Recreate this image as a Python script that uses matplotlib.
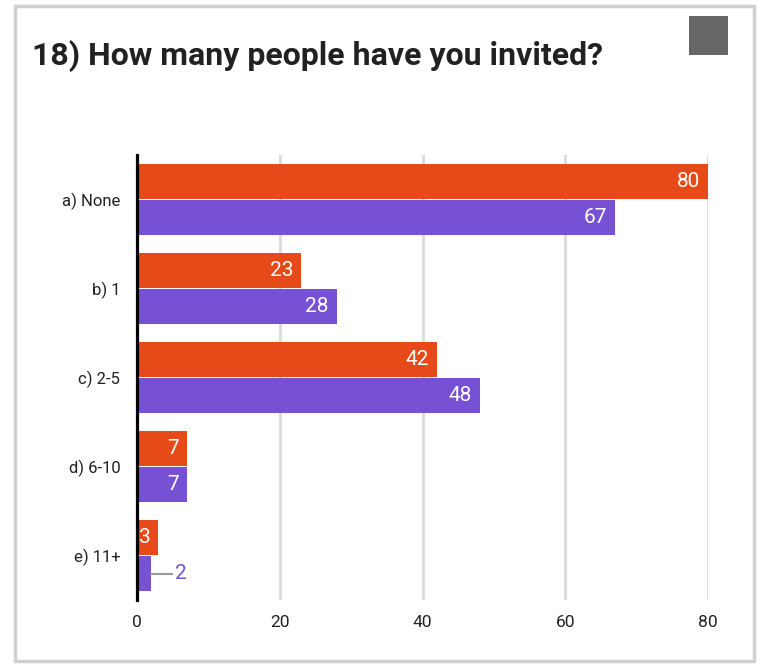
import numpy as np
import matplotlib
matplotlib.use("Agg")
import matplotlib.pyplot as plt
from matplotlib.patches import Rectangle

plt.rcParams['font.family'] = ['Roboto', 'DejaVu Sans']

title = "18) How many people have you invited?"
categories = ["a) None", "b) 1", "c) 2-5", "d) 6-10", "e) 11+"]
series_a = [80, 23, 42, 7, 3]
series_b = [67, 28, 48, 7, 2]
xticks = [0, 20, 40, 60, 80]

orange = "#E64A19"
purple = "#7651D3"

fig = plt.figure(figsize=(7.62, 6.65), dpi=100)
ax = fig.add_axes([137 / 762, 1 - 600 / 665, (708 - 137) / 762, 445 / 665])

y = np.arange(len(categories))
h = 0.39
off = 0.205
ax.barh(y - off, series_a, height=h, color=orange, zorder=3)
ax.barh(y + off, series_b, height=h, color=purple, zorder=3)

px = 80 / 571  # data units per pixel


def label(vals, ys, color):
    for v, yy in zip(vals, ys):
        if v > 2:
            ax.text(v - 8 * px, yy, str(v), color="white", fontsize=15,
                    ha="right", va="center", zorder=4)
        else:
            ax.plot([v - 1 * px, v + 22 * px], [yy, yy], color="#999999",
                    lw=1.5, zorder=4, solid_capstyle="butt")
            ax.text(v + 24 * px, yy, str(v), color=color, fontsize=15,
                    ha="left", va="center", zorder=4)


label(series_a, y - off, orange)
label(series_b, y + off, purple)

ax.set_xlim(0, 80)
ax.set_ylim(4.5, -0.5)
ax.set_xticks(xticks)
ax.set_xticklabels([str(t) for t in xticks], fontsize=12.5, color="#222222")
ax.set_yticks(y)
ax.set_yticklabels(categories, fontsize=12, color="#222222")
ax.tick_params(length=0)
ax.tick_params(axis="x", pad=11)
ax.tick_params(axis="y", pad=12)
ax.grid(axis="x", color="#dddddd", lw=2.2, zorder=0)
for s in ["top", "right", "bottom"]:
    ax.spines[s].set_visible(False)
ax.spines["left"].set_linewidth(2.3)
ax.spines["left"].set_color("black")
ax.spines["left"].set_zorder(5)

fig.text(32 / 762, 1 - 65 / 665, title, fontsize=23, fontweight="bold",
         color="#212121", ha="left", va="baseline")

# card frame and the grey square
fig.patches.append(Rectangle((15 / 762, 1 - 661 / 665), (754 - 15) / 762, (661 - 6) / 665,
                             transform=fig.transFigure, fill=False,
                             edgecolor="#d0d0d0", lw=2.5, zorder=0))
fig.patches.append(Rectangle((689 / 762, 1 - 55 / 665), 39 / 762, 39 / 665,
                             transform=fig.transFigure, facecolor="#666666",
                             edgecolor="none"))

fig.savefig("out.png", dpi=100)
